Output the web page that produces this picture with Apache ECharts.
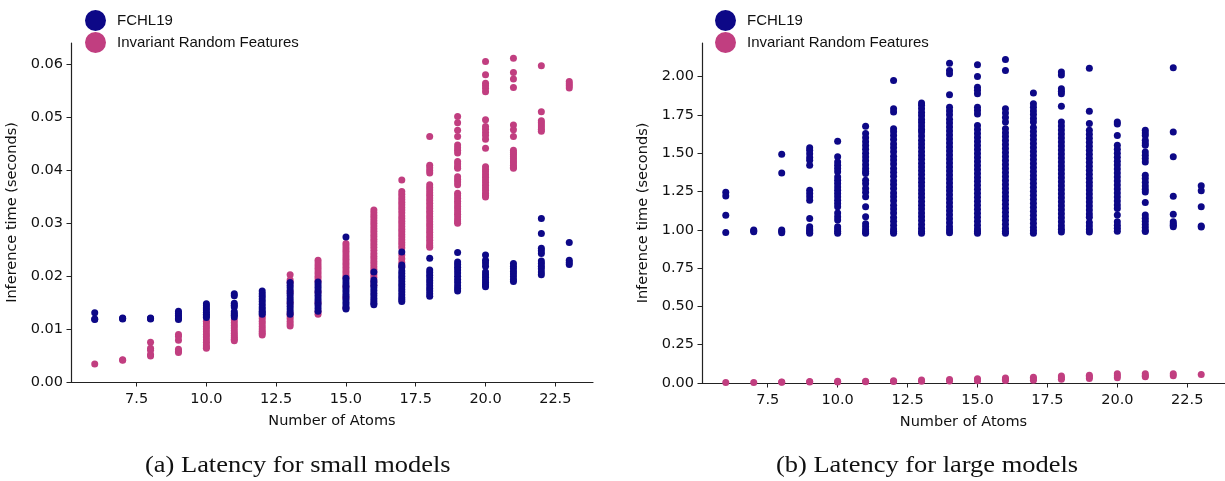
<!DOCTYPE html>
<html>
<head>
<meta charset="utf-8">
<script src="https://cdn.jsdelivr.net/npm/echarts@6/dist/echarts.min.js"></script>
<style>
  html, body { margin: 0; padding: 0; background: #fff; }
  #chart { width: 1225px; height: 481px; }
</style>
</head>
<body>
<div id="chart"></div>
<script>
// series names
const seriesNames = ["FCHL19", "Invariant Random Features"];
const xTicks = [7.5, 10, 12.5, 15, 17.5, 20, 22.5];
const smallYTicks = [0, 0.01, 0.02, 0.03, 0.04, 0.05, 0.06];
const largeYTicks = [0, 0.25, 0.5, 0.75, 1.0, 1.25, 1.5, 1.75, 2.0];

// (a) small models: [number of atoms, [inference times]]
const smallFchl = [
  [6, [0.0131, 0.0119, 0.0118]],
  [7, [0.0121, 0.0120, 0.0119]],
  [8, [0.0121, 0.0120, 0.0119]],
  [9, [0.0134, 0.0130, 0.0126, 0.0123, 0.0120, 0.0118]],
  [10, [0.0148, 0.0144, 0.0140, 0.0136, 0.0132, 0.0128, 0.0125, 0.0122]],
  [11, [0.0167, 0.0163, 0.0149, 0.0145, 0.0142, 0.0133, 0.0129, 0.0126, 0.0123]],
  [12, [0.0172, 0.0167, 0.0162, 0.0157, 0.0152, 0.0147, 0.0142, 0.0138, 0.0134, 0.0131, 0.0128]],
  [13, [0.0188, 0.0183, 0.0178, 0.0173, 0.0168, 0.0163, 0.0158, 0.0153, 0.0148, 0.0143, 0.0138, 0.0133, 0.0128]],
  [14, [0.0189, 0.0184, 0.0179, 0.0174, 0.0169, 0.0164, 0.0159, 0.0154, 0.0149, 0.0144, 0.0139, 0.0134]],
  [15, [0.0274, 0.0196, 0.0191, 0.0186, 0.0181, 0.0176, 0.0171, 0.0166, 0.0161, 0.0156, 0.0151, 0.0146, 0.0141, 0.0138]],
  [16, [0.0208, 0.0193, 0.0188, 0.0183, 0.0178, 0.0173, 0.0168, 0.0163, 0.0158, 0.0153, 0.0149, 0.0146]],
  [17, [0.0246, 0.0221, 0.0217, 0.0210, 0.0205, 0.0200, 0.0195, 0.0190, 0.0185, 0.0180, 0.0175, 0.0170, 0.0165, 0.0160, 0.0156, 0.0152]],
  [18, [0.0234, 0.0212, 0.0207, 0.0202, 0.0197, 0.0192, 0.0187, 0.0182, 0.0177, 0.0172, 0.0167, 0.0162]],
  [19, [0.0245, 0.0227, 0.0222, 0.0217, 0.0212, 0.0206, 0.0200, 0.0194, 0.0188, 0.0182, 0.0177, 0.0172]],
  [20, [0.0240, 0.0230, 0.0225, 0.0219, 0.0208, 0.0203, 0.0198, 0.0193, 0.0188, 0.0184, 0.0180]],
  [21, [0.0224, 0.0219, 0.0214, 0.0209, 0.0204, 0.0199, 0.0194, 0.0190]],
  [22, [0.0309, 0.0281, 0.0253, 0.0248, 0.0243, 0.0229, 0.0224, 0.0219, 0.0214, 0.0208, 0.0203]],
  [23, [0.0264, 0.0230, 0.0226, 0.0222]]
];
const smallIrf = [
  [6, [0.0034]],
  [7, [0.0042, 0.0041]],
  [8, [0.0075, 0.0064, 0.0060, 0.0052, 0.0049]],
  [9, [0.0090, 0.0086, 0.0079, 0.0062, 0.0058, 0.0056]],
  [10, [0.0115, 0.0110, 0.0105, 0.0100, 0.0095, 0.0090, 0.0085, 0.0080, 0.0075, 0.0070, 0.0066, 0.0064]],
  [11, [0.0117, 0.0112, 0.0107, 0.0102, 0.0097, 0.0092, 0.0088, 0.0084, 0.0081, 0.0078]],
  [12, [0.0125, 0.0120, 0.0115, 0.0110, 0.0105, 0.0100, 0.0096, 0.0092, 0.0089]],
  [13, [0.0203, 0.0193, 0.0188, 0.0170, 0.0150, 0.0130, 0.0125, 0.0120, 0.0115, 0.0110, 0.0106]],
  [14, [0.0230, 0.0225, 0.0220, 0.0215, 0.0210, 0.0205, 0.0200, 0.0195, 0.0190, 0.0170, 0.0150, 0.0133, 0.0128]],
  [15, [0.0262, 0.0257, 0.0252, 0.0247, 0.0242, 0.0237, 0.0232, 0.0227, 0.0222, 0.0217, 0.0212, 0.0207, 0.0202, 0.0197, 0.0180, 0.0160, 0.0140]],
  [16, [0.0325, 0.0320, 0.0315, 0.0310, 0.0305, 0.0300, 0.0295, 0.0290, 0.0285, 0.0280, 0.0275, 0.0270, 0.0265, 0.0260, 0.0255, 0.0249, 0.0243, 0.0238, 0.0233, 0.0228, 0.0223, 0.0218, 0.0213, 0.0208, 0.0203, 0.0198, 0.0190, 0.0183]],
  [17, [0.0382, 0.0360, 0.0355, 0.0350, 0.0345, 0.0340, 0.0335, 0.0330, 0.0325, 0.0320, 0.0314, 0.0309, 0.0304, 0.0299, 0.0294, 0.0289, 0.0284, 0.0279, 0.0274, 0.0269, 0.0264, 0.0259, 0.0254, 0.0240, 0.0233, 0.0226, 0.0219]],
  [18, [0.0464, 0.0410, 0.0405, 0.0400, 0.0395, 0.0373, 0.0368, 0.0363, 0.0358, 0.0353, 0.0348, 0.0343, 0.0338, 0.0333, 0.0328, 0.0323, 0.0318, 0.0313, 0.0308, 0.0303, 0.0298, 0.0293, 0.0288, 0.0283, 0.0278, 0.0273, 0.0268, 0.0263, 0.0258, 0.0255]],
  [19, [0.0502, 0.0490, 0.0476, 0.0464, 0.0448, 0.0443, 0.0438, 0.0433, 0.0417, 0.0412, 0.0407, 0.0404, 0.0388, 0.0383, 0.0378, 0.0373, 0.0357, 0.0352, 0.0347, 0.0342, 0.0337, 0.0332, 0.0327, 0.0322, 0.0317, 0.0312, 0.0307, 0.0303, 0.0300]],
  [20, [0.0606, 0.0581, 0.0565, 0.0560, 0.0555, 0.0549, 0.0496, 0.0483, 0.0478, 0.0472, 0.0466, 0.0459, 0.0442, 0.0407, 0.0402, 0.0397, 0.0392, 0.0387, 0.0382, 0.0377, 0.0372, 0.0367, 0.0362, 0.0357, 0.0353, 0.0350]],
  [21, [0.0612, 0.0585, 0.0573, 0.0557, 0.0486, 0.0477, 0.0464, 0.0438, 0.0434, 0.0430, 0.0426, 0.0422, 0.0418, 0.0414, 0.0410, 0.0406, 0.0404]],
  [22, [0.0598, 0.0511, 0.0494, 0.0490, 0.0486, 0.0482, 0.0478, 0.0474]],
  [23, [0.0568, 0.0564, 0.0560, 0.0556]]
];

// (b) large models
const largeFchl = [
  [6, [1.245, 1.220, 1.095, 0.983]],
  [7, [0.998, 0.992, 0.987]],
  [8, [1.493, 1.371, 0.998, 0.990, 0.980]],
  [9, [1.536, 1.519, 1.497, 1.471, 1.454, 1.421, 1.258, 1.237, 1.215, 1.193, 1.074, 1.020, 1.005, 0.995, 0.985, 0.977]],
  [10, [1.577, 1.476, 1.443, 1.421, 1.400, 1.378, 1.345, 1.323, 1.302, 1.280, 1.258, 1.237, 1.215, 1.193, 1.172, 1.150, 1.109, 1.085, 1.063, 1.020, 1.005, 0.990, 0.977]],
  [11, [1.675, 1.628, 1.600, 1.575, 1.550, 1.525, 1.500, 1.475, 1.450, 1.425, 1.400, 1.380, 1.367, 1.324, 1.300, 1.270, 1.245, 1.215, 1.150, 1.085, 1.040, 1.020, 1.000, 0.985, 0.977]],
  [12, [1.975, 1.790, 1.768, 1.660, 1.640, 1.615, 1.590, 1.560, 1.535, 1.510, 1.480, 1.455, 1.430, 1.400, 1.375, 1.350, 1.320, 1.295, 1.270, 1.240, 1.215, 1.190, 1.160, 1.135, 1.110, 1.080, 1.055, 1.030, 1.005, 0.990, 0.977]],
  [13, [1.827, 1.812, 1.790, 1.765, 1.745, 1.720, 1.700, 1.678, 1.655, 1.638, 1.612, 1.585, 1.560, 1.535, 1.510, 1.485, 1.460, 1.435, 1.410, 1.385, 1.360, 1.335, 1.310, 1.285, 1.260, 1.235, 1.210, 1.185, 1.160, 1.135, 1.110, 1.085, 1.060, 1.035, 1.010, 0.990, 0.977]],
  [14, [2.087, 2.040, 2.018, 1.881, 1.800, 1.776, 1.750, 1.722, 1.697, 1.671, 1.645, 1.618, 1.592, 1.566, 1.540, 1.514, 1.488, 1.462, 1.436, 1.410, 1.384, 1.358, 1.332, 1.306, 1.280, 1.254, 1.228, 1.202, 1.176, 1.150, 1.124, 1.098, 1.072, 1.046, 1.020, 0.998, 0.980]],
  [15, [2.077, 2.000, 1.931, 1.910, 1.888, 1.800, 1.778, 1.756, 1.680, 1.654, 1.628, 1.602, 1.576, 1.550, 1.524, 1.498, 1.472, 1.446, 1.420, 1.394, 1.368, 1.342, 1.316, 1.290, 1.264, 1.238, 1.212, 1.186, 1.160, 1.134, 1.108, 1.082, 1.056, 1.030, 1.005, 0.990, 0.977]],
  [16, [2.111, 2.040, 1.790, 1.762, 1.732, 1.703, 1.660, 1.634, 1.608, 1.582, 1.556, 1.530, 1.504, 1.478, 1.452, 1.426, 1.400, 1.374, 1.348, 1.322, 1.296, 1.270, 1.244, 1.218, 1.192, 1.166, 1.140, 1.114, 1.088, 1.062, 1.036, 1.010, 0.990, 0.977]],
  [17, [1.892, 1.823, 1.800, 1.776, 1.752, 1.727, 1.703, 1.667, 1.641, 1.615, 1.589, 1.563, 1.537, 1.511, 1.485, 1.459, 1.433, 1.407, 1.381, 1.355, 1.329, 1.303, 1.277, 1.251, 1.225, 1.199, 1.173, 1.147, 1.121, 1.095, 1.069, 1.043, 1.017, 0.995, 0.977]],
  [18, [2.029, 2.010, 1.920, 1.904, 1.888, 1.807, 1.703, 1.677, 1.651, 1.625, 1.599, 1.573, 1.547, 1.521, 1.495, 1.469, 1.443, 1.417, 1.391, 1.365, 1.339, 1.313, 1.287, 1.261, 1.235, 1.209, 1.183, 1.157, 1.131, 1.105, 1.079, 1.053, 1.027, 1.003, 0.985]],
  [19, [2.055, 1.773, 1.693, 1.649, 1.623, 1.597, 1.571, 1.545, 1.519, 1.493, 1.467, 1.441, 1.415, 1.389, 1.363, 1.337, 1.311, 1.285, 1.259, 1.233, 1.207, 1.181, 1.155, 1.129, 1.103, 1.082, 1.048, 1.025, 1.002, 0.985]],
  [20, [1.703, 1.690, 1.616, 1.551, 1.526, 1.500, 1.474, 1.448, 1.422, 1.396, 1.370, 1.344, 1.318, 1.292, 1.266, 1.240, 1.214, 1.188, 1.162, 1.139, 1.096, 1.052, 1.030, 1.010, 0.990]],
  [21, [1.649, 1.632, 1.616, 1.584, 1.567, 1.551, 1.508, 1.487, 1.465, 1.443, 1.356, 1.335, 1.310, 1.285, 1.265, 1.247, 1.178, 1.096, 1.075, 1.055, 1.035, 1.015, 0.995, 0.988]],
  [22, [2.057, 1.638, 1.476, 1.219, 1.102, 1.052, 1.040, 1.030, 1.020]],
  [23, [1.287, 1.254, 1.150, 1.025, 1.018]]
];
const largeIrf = [
  [6, [0.003]], [7, [0.004]], [8, [0.005, 0.007]], [9, [0.006, 0.009]],
  [10, [0.007, 0.011]], [11, [0.008, 0.012]], [12, [0.009, 0.014]],
  [13, [0.011, 0.020]], [14, [0.013, 0.023]], [15, [0.014, 0.020, 0.027]],
  [16, [0.016, 0.024, 0.032]], [17, [0.018, 0.028, 0.038]], [18, [0.025, 0.035, 0.046]],
  [19, [0.030, 0.040, 0.050]], [20, [0.035, 0.048, 0.060]], [21, [0.040, 0.048, 0.061]],
  [22, [0.048, 0.060]], [23, [0.056]]
];

const BLUE = "#0d0887";
const PINK = "#c13e80";

// 列表 -> [x, y] 点
const toPoints = (rows) => rows.flatMap(([n, vals]) => vals.map((v) => [n, v]));

const tickFont = { fontFamily: "DejaVu Sans", fontSize: 14.5, color: "#111" };
const nameFont = { fontFamily: "DejaVu Sans", fontSize: 14.5, color: "#111" };

const makeX = (gridIndex) => ({
  type: "value",
  gridIndex,
  min: 5.15,
  max: 23.85,
  name: "Number of Atoms",
  nameLocation: "middle",
  nameGap: 32,
  nameTextStyle: nameFont,
  splitLine: { show: false },
  axisLine: { lineStyle: { color: "#222", width: 1.2 } },
  axisTick: { customValues: xTicks, length: 4.5, lineStyle: { color: "#222" } },
  axisLabel: {
    customValues: xTicks,
    margin: 10,
    ...tickFont,
    formatter: (v) => v.toFixed(1),
  },
});

const makeY = (gridIndex, max, ticks, nameGap) => ({
  type: "value",
  gridIndex,
  min: 0,
  max,
  name: "Inference time (seconds)",
  nameLocation: "middle",
  nameGap,
  nameTextStyle: nameFont,
  splitLine: { show: false },
  axisLine: { show: true, lineStyle: { color: "#222", width: 1.2 } },
  axisTick: { show: true, customValues: ticks, length: 4.5, lineStyle: { color: "#222" } },
  axisLabel: {
    customValues: ticks,
    margin: 8,
    ...tickFont,
    formatter: (v) => v.toFixed(2),
  },
});

const makeLegend = (left) => ({
  left,
  top: 5,
  orient: "vertical",
  icon: "circle",
  itemWidth: 21,
  itemHeight: 21,
  itemGap: 1,
  data: seriesNames,
  textStyle: {
    fontFamily: "Liberation Sans",
    fontSize: 15,
    color: "#111",
    padding: [0, 0, 0, 6],
  },
});

const scatter = (name, rows, idx, color, size) => ({
  name,
  type: "scatter",
  xAxisIndex: idx,
  yAxisIndex: idx,
  symbolSize: size,
  itemStyle: { color, opacity: 1 },
  data: toPoints(rows),
});

const chart = echarts.init(document.getElementById("chart"));
chart.setOption({
  animation: false,
  color: [BLUE, PINK],
  legend: [makeLegend(80), makeLegend(710)],
  grid: [
    { left: 71, top: 43, width: 522, height: 339 },
    { left: 702, top: 43, width: 524, height: 340 },
  ],
  xAxis: [makeX(0), makeX(1)],
  yAxis: [makeY(0, 0.0641, smallYTicks, 51), makeY(1, 2.219, largeYTicks, 51)],
  series: [
    scatter(seriesNames[1], smallIrf, 0, PINK, 7),
    scatter(seriesNames[0], smallFchl, 0, BLUE, 7),
    scatter(seriesNames[1], largeIrf, 1, PINK, 7),
    scatter(seriesNames[0], largeFchl, 1, BLUE, 7),
  ],
  graphic: [
    {
      type: "text",
      x: 145,
      y: 454,
      scaleX: 1.15,
      style: { text: "(a) Latency for small models", font: "23px 'Liberation Serif'", fill: "#111" },
    },
    {
      type: "text",
      x: 776,
      y: 454,
      scaleX: 1.15,
      style: { text: "(b) Latency for large models", font: "23px 'Liberation Serif'", fill: "#111" },
    },
  ],
});
</script>
</body>
</html>
